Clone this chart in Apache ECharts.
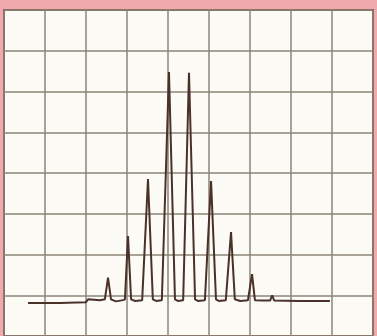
<!DOCTYPE html>
<html><head><meta charset="utf-8">
<script src="https://cdn.jsdelivr.net/npm/echarts@6/dist/echarts.min.js"></script>
<style>html,body{margin:0;padding:0;background:#f0a9ad;}#c{width:377px;height:336px;}</style>
</head><body><div id="c"></div>
<script>
// Grid divisions
const xDivisions = [0,1,2,3,4,5,6,7,8,9];
const yDivisions = [0,1,2,3,4,5,6,7,8];
// Trace (x in divisions, y in divisions)
const traceX = [0.585,1.36,2.0,2.05,2.34,2.46,2.537,2.61,2.73,2.9,2.95,3.024,3.1,3.2,3.37,3.41,3.512,3.63,3.71,3.85,3.88,4.024,4.17,4.24,4.37,4.4,4.512,4.66,4.73,4.9,4.93,5.05,5.17,5.24,5.41,5.44,5.537,5.63,5.76,5.95,5.98,6.05,6.12,6.3,6.44,6.49,6.54,6.59,7.2,7.95];
const traceY = [0.81,0.81,0.83,0.9,0.88,0.9,1.43,0.9,0.85,0.88,0.9,2.45,0.9,0.86,0.88,0.9,3.85,0.9,0.86,0.88,0.9,6.48,0.9,0.86,0.88,0.9,6.46,0.9,0.86,0.88,0.9,3.8,0.9,0.86,0.88,0.9,2.55,0.9,0.86,0.88,0.9,1.52,0.88,0.87,0.87,0.87,1.0,0.87,0.86,0.86];
const chart = echarts.init(document.getElementById('c'));
chart.setOption({
  backgroundColor: '#f0a9ad',
  animation: false,
  grid: {left: 4, right: 4, top: 10, bottom: -1, show: true, backgroundColor: '#fcfbf6', borderColor: '#7e4a48', borderWidth: 2},
  xAxis: {type: 'value', min: xDivisions[0], max: xDivisions[xDivisions.length-1], interval: 1,
    axisLine: {show: false}, axisTick: {show: false}, axisLabel: {show: false},
    splitLine: {show: true, lineStyle: {color: '#8e8576', width: 1.5}}},
  yAxis: {type: 'value', min: yDivisions[0], max: yDivisions[yDivisions.length-1], interval: 1,
    axisLine: {show: false}, axisTick: {show: false}, axisLabel: {show: false},
    splitLine: {show: true, lineStyle: {color: '#8e8576', width: 1.5}}},
  series: [{type: 'line', data: traceX.map((x, i) => [x, traceY[i]]), showSymbol: false,
    lineStyle: {color: '#4a3129', width: 2}}]
});
</script></body></html>
